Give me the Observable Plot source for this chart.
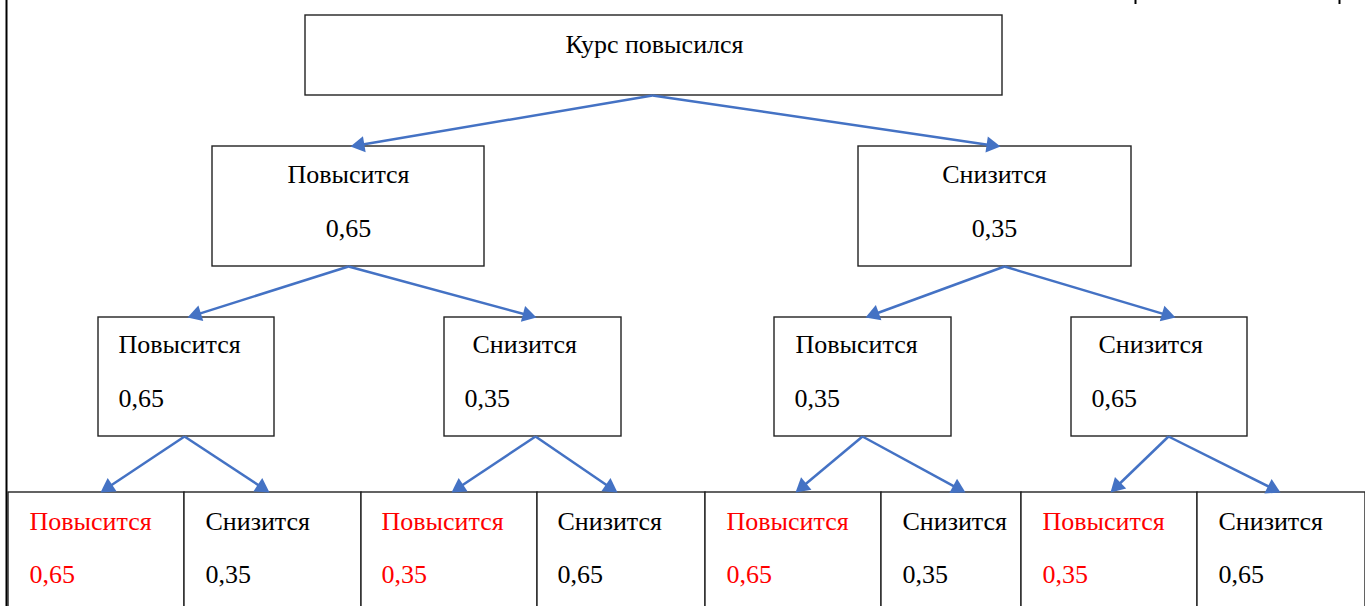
<!DOCTYPE html>
<html>
<head>
<meta charset="utf-8">
<script src="https://cdn.jsdelivr.net/npm/d3@7"></script>
<script src="https://cdn.jsdelivr.net/npm/@observablehq/plot@0.6"></script>
<style>
  html, body { margin: 0; padding: 0; background: #fff; }
  #chart svg { display: block; }
  #chart svg text { font-family: "Liberation Serif", "Times New Roman", serif !important; }
</style>
</head>
<body>
<div id="chart"></div>
<script>
// ---------- DATA ----------
const rootLabel = ["Курс повысился"];
const level1Labels = ["Повысится", "Снизится"];
const level1Values = ["0,65", "0,35"];
const level2Labels = ["Повысится", "Снизится", "Повысится", "Снизится"];
const level2Values = ["0,65", "0,35", "0,35", "0,65"];
const level3Labels = ["Повысится", "Снизится", "Повысится", "Снизится", "Повысится", "Снизится", "Повысится", "Снизится"];
const level3Values = ["0,65", "0,35", "0,35", "0,65", "0,65", "0,35", "0,35", "0,65"];
const highlightLabel = "Повысится"; // leaves of this outcome are shown in red

// ---------- LAYOUT (diagram geometry) ----------
const W = 1365, H = 606;
const rowY = [[15, 95], [146, 266], [317, 436], [492, 650]];
const leafEdges = [8, 184, 361, 537, 705, 881, 1021, 1197, 1365];
const boxX = [
  [[305, 1002]],
  [[212, 484], [858, 1131]],
  [[98, 274], [444, 621], [774, 951], [1071, 1247]],
  leafEdges.slice(0, -1).map((e, i) => [e, leafEdges[i + 1]])
];
// text placement inside boxes: [x, anchor]
const labelX = [
  [[654, "middle"]],
  [[348, "middle"], [994, "middle"]],
  [[118, "start"], [472, "start"], [795, "start"], [1098, "start"]],
  [29, 205, 381, 557, 726, 902, 1042, 1218].map(x => [x, "start"])
];
const valueX = [
  [],
  [[348, "middle"], [994, "middle"]],
  [[118, "start"], [464, "start"], [794, "start"], [1091, "start"]],
  [29, 205, 381, 557, 726, 902, 1042, 1218].map(x => [x, "start"])
];
const labelBase = [52, 182, 352, 529];
const valueBase = [null, 236, 406, 582];
const outX = [[652], [348, 1004], [184, 535, 862, 1168]];
const inX = [null, [350, 1000], [187, 536, 865, 1175], [100, 269, 451, 617, 795, 965, 1110, 1280]];

const FONT = "Liberation Serif";
const FS = 26;
const BLUE = "#4472C4";

// ---------- BUILD TABLES ----------
const levels = [
  {labels: rootLabel, values: []},
  {labels: level1Labels, values: level1Values},
  {labels: level2Labels, values: level2Values},
  {labels: level3Labels, values: level3Values}
];

const boxes = [];
const texts = [];
levels.forEach((lv, l) => {
  lv.labels.forEach((lab, i) => {
    const red = l === 3 && lab === highlightLabel;
    boxes.push({x1: boxX[l][i][0], x2: boxX[l][i][1], y1: rowY[l][0], y2: rowY[l][1]});
    texts.push({x: labelX[l][i][0], anchor: labelX[l][i][1], y: labelBase[l] - 8.3, text: lab, color: red ? "#FF0000" : "#000"});
    if (lv.values[i] !== undefined) {
      texts.push({x: valueX[l][i][0], anchor: valueX[l][i][1], y: valueBase[l] - 8.3, text: lv.values[i], color: red ? "#FF0000" : "#000"});
    }
  });
});

const R = 6;
const apex = 2 * Math.sqrt((Math.PI * R * R) / (3 * Math.sqrt(3)));
const links = [];
const heads = [];
for (let l = 1; l < levels.length; l++) {
  inX[l].forEach((tx, i) => {
    const ox = outX[l - 1][Math.floor(i / 2)];
    const oy = rowY[l - 1][1];
    const ty = rowY[l][0];
    const dx = tx - ox, dy = ty - oy;
    const len = Math.hypot(dx, dy);
    const ux = dx / len, uy = dy / len;
    const cx = tx - ux * apex, cy = ty - uy * apex;
    links.push({x1: ox, y1: oy, x2: cx, y2: cy});
    heads.push({x: cx, y: cy, rotate: Math.atan2(dx, -dy) * 180 / Math.PI});
  });
}

const chart = Plot.plot({
  width: W,
  height: H,
  margin: 0,
  x: {domain: [0, W], range: [0, W], axis: null},
  y: {domain: [0, H], range: [0, H], axis: null},
  style: {background: "#fff", fontFamily: FONT},
  marks: [
    Plot.ruleX([6], {y1: 0, y2: H, stroke: "#000", strokeWidth: 2}),
    Plot.ruleX([1135, 1339], {y1: 0, y2: 4, stroke: "#000", strokeWidth: 2}),
    Plot.rect(boxes, {x1: "x1", x2: "x2", y1: "y1", y2: "y2", fill: "#fff", stroke: "#222", strokeWidth: 1.4}),
    Plot.link(links, {x1: "x1", y1: "y1", x2: "x2", y2: "y2", stroke: BLUE, strokeWidth: 2.5}),
    Plot.dot(heads, {x: "x", y: "y", r: R, symbol: "triangle", fill: BLUE, stroke: "none", rotate: "rotate"}),
    Plot.text(texts.filter(d => d.anchor === "middle"), {x: "x", y: "y", text: "text", fill: "color", textAnchor: "middle", fontSize: FS, fontFamily: FONT}),
    Plot.text(texts.filter(d => d.anchor === "start"), {x: "x", y: "y", text: "text", fill: "color", textAnchor: "start", fontSize: FS, fontFamily: FONT})
  ]
});
document.getElementById("chart").appendChild(chart);
</script>
</body>
</html>
